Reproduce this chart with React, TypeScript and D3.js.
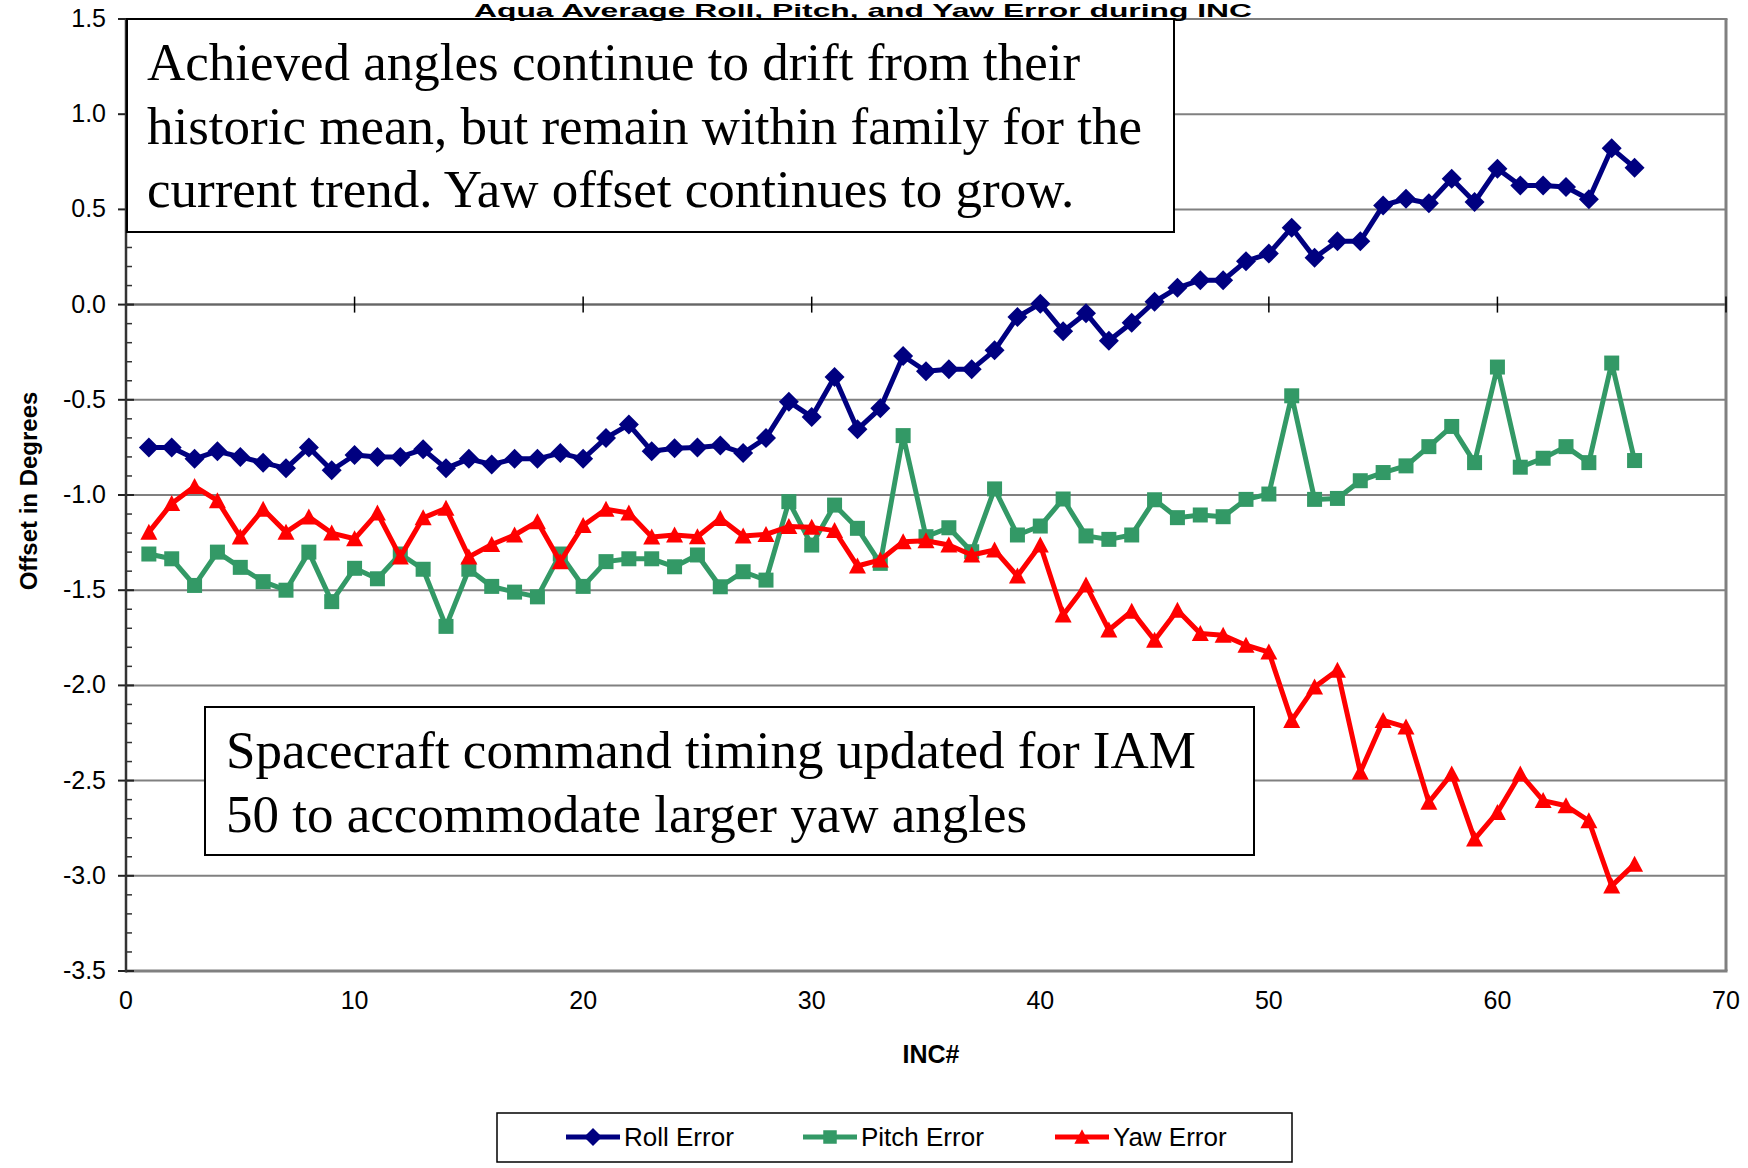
import React, { useRef, useEffect } from 'react';
import * as d3 from 'd3';

// values, one per INC# (1..66)
const rollError = [
    -0.75, -0.75, -0.81, -0.77, -0.80, -0.83, -0.86, -0.75, -0.87, -0.79,
    -0.80, -0.80, -0.76, -0.86, -0.81, -0.84, -0.81, -0.81, -0.78, -0.81,
    -0.70, -0.63, -0.77, -0.755, -0.75, -0.74, -0.78, -0.70, -0.51, -0.59,
    -0.38, -0.655, -0.545, -0.27, -0.35, -0.34, -0.34, -0.24, -0.065, 0.005,
    -0.14, -0.045, -0.19, -0.095, 0.015, 0.088, 0.128, 0.128, 0.228, 0.268,
    0.404, 0.246, 0.333, 0.333, 0.521, 0.556, 0.532, 0.661, 0.539, 0.714,
    0.626, 0.626, 0.618, 0.553, 0.821, 0.719
];
const pitchError = [
    -1.31, -1.335, -1.475, -1.30, -1.38, -1.455, -1.50, -1.30, -1.56, -1.385,
    -1.44, -1.31, -1.39, -1.69, -1.39, -1.48, -1.51, -1.535, -1.31, -1.48,
    -1.35, -1.335, -1.335, -1.377, -1.315, -1.482, -1.403, -1.447, -1.035, -1.263,
    -1.053, -1.175, -1.359, -0.688, -1.219, -1.172, -1.298, -0.968, -1.21, -1.163,
    -1.021, -1.215, -1.233, -1.21, -1.025, -1.119, -1.105, -1.114, -1.023, -0.995,
    -0.479, -1.023, -1.018, -0.925, -0.882, -0.847, -0.746, -0.64, -0.83, -0.328,
    -0.854, -0.807, -0.746, -0.83, -0.307, -0.819
];
const yawError = [
    -1.195, -1.045, -0.955, -1.03, -1.22, -1.075, -1.195, -1.115, -1.20, -1.23,
    -1.095, -1.325, -1.12, -1.07, -1.325, -1.26, -1.21, -1.14, -1.35, -1.16,
    -1.075, -1.095, -1.22, -1.21, -1.219, -1.123, -1.215, -1.207, -1.166, -1.17,
    -1.187, -1.373, -1.341, -1.245, -1.24, -1.263, -1.315, -1.289, -1.426, -1.263,
    -1.63, -1.473, -1.709, -1.61, -1.763, -1.605, -1.728, -1.737, -1.789, -1.825,
    -2.184, -2.009, -1.921, -2.456, -2.184, -2.219, -2.614, -2.465, -2.807, -2.667,
    -2.465, -2.605, -2.632, -2.711, -3.053, -2.939
];

const yTicks = [1.5, 1.0, 0.5, 0.0, -0.5, -1.0, -1.5, -2.0, -2.5, -3.0, -3.5];
const xTicks = [0, 10, 20, 30, 40, 50, 60, 70];

const seriesNames = ['Roll Error', 'Pitch Error', 'Yaw Error'];
const seriesColors = ['#000080', '#339966', '#FF0000'];
const seriesShapes = ['diamond', 'square', 'triangle'];

const title = 'Aqua Average Roll, Pitch, and Yaw Error during INC';
const note1 = [
    'Achieved angles continue to drift from their',
    'historic mean, but remain within family for the',
    'current trend. Yaw offset continues to grow.'
];
const note2 = [
    'Spacecraft command timing updated for IAM',
    '50 to accommodate larger yaw angles'
];

const W = 1748;
const H = 1168;
const plot = { left: 126, right: 1726, top: 19, bottom: 971 };

const markerPath = (shape: string, s: number) => {
    if (shape === 'diamond') return `M0,${-s} L${s},0 L0,${s} L${-s},0 Z`;
    if (shape === 'square') return `M${-s * 0.75},${-s * 0.75} h${s * 1.5} v${s * 1.5} h${-s * 1.5} Z`;
    return `M0,${-s * 0.85} L${s * 0.85},${s * 0.75} L${-s * 0.85},${s * 0.75} Z`;
};

export default function App() {
    const ref = useRef<SVGSVGElement>(null);

    useEffect(() => {
        if (!ref.current) return;
        const svg = d3.select(ref.current);
        svg.selectAll('*').remove();

        const x = d3.scaleLinear().domain([0, 70]).range([plot.left, plot.right]);
        const y = d3.scaleLinear().domain([-3.5, 1.5]).range([plot.bottom, plot.top]);
        const sans = '"Liberation Sans", Arial, sans-serif';
        const serif = '"Liberation Serif", "Times New Roman", serif';

        svg.append('rect').attr('width', W).attr('height', H).attr('fill', '#fff');

        /* gridlines */
        svg.append('g').selectAll('line')
            .data(yTicks.filter(v => v > -3.5 && v < 1.5))
            .enter().append('line')
            .attr('x1', plot.left).attr('x2', plot.right)
            .attr('y1', d => y(d)).attr('y2', d => y(d))
            .attr('stroke', '#808080').attr('stroke-width', 2);

        /* plot frame */
        svg.append('line')
            .attr('x1', plot.right).attr('x2', plot.right)
            .attr('y1', plot.top).attr('y2', plot.bottom)
            .attr('stroke', '#808080').attr('stroke-width', 3);
        svg.append('line')
            .attr('x1', plot.left).attr('x2', plot.right + 1.5)
            .attr('y1', plot.bottom).attr('y2', plot.bottom)
            .attr('stroke', '#808080').attr('stroke-width', 3);
        svg.append('line')
            .attr('x1', plot.left).attr('x2', plot.right + 1.5)
            .attr('y1', plot.top).attr('y2', plot.top)
            .attr('stroke', '#808080').attr('stroke-width', 2);

        /* x axis crosses at 0 */
        svg.append('line')
            .attr('x1', plot.left).attr('x2', plot.right)
            .attr('y1', y(0)).attr('y2', y(0))
            .attr('stroke', '#666').attr('stroke-width', 2);
        svg.append('g').selectAll('line')
            .data(xTicks.slice(1))
            .enter().append('line')
            .attr('x1', d => x(d)).attr('x2', d => x(d))
            .attr('y1', y(0) - 8).attr('y2', y(0) + 8)
            .attr('stroke', '#000').attr('stroke-width', 1.5);
        svg.append('g').selectAll('text')
            .data(xTicks)
            .enter().append('text')
            .attr('x', d => x(d)).attr('y', 1009)
            .attr('text-anchor', 'middle')
            .attr('font-family', sans).attr('font-size', 25)
            .text(d => String(d));

        /* y axis */
        const minor = d3.range(-35, 16).map(v => v / 10).filter(v => Math.round(v * 10) % 5 !== 0);
        svg.append('g').selectAll('line')
            .data(minor)
            .enter().append('line')
            .attr('x1', plot.left).attr('x2', plot.left + 6)
            .attr('y1', d => y(d)).attr('y2', d => y(d))
            .attr('stroke', '#333').attr('stroke-width', 1.5);
        svg.append('g').selectAll('line')
            .data(yTicks)
            .enter().append('line')
            .attr('x1', plot.left - 8).attr('x2', plot.left + 8)
            .attr('y1', d => y(d)).attr('y2', d => y(d))
            .attr('stroke', '#222').attr('stroke-width', 2);
        svg.append('line')
            .attr('x1', plot.left).attr('x2', plot.left)
            .attr('y1', plot.top).attr('y2', plot.bottom + 1.5)
            .attr('stroke', '#333').attr('stroke-width', 2.5);
        svg.append('g').selectAll('text')
            .data(yTicks)
            .enter().append('text')
            .attr('x', 106).attr('y', d => y(d) + 8)
            .attr('text-anchor', 'end')
            .attr('font-family', sans).attr('font-size', 25)
            .text(d => d.toFixed(1));

        /* axis titles */
        svg.append('text')
            .attr('x', 931).attr('y', 1063)
            .attr('text-anchor', 'middle')
            .attr('font-family', sans).attr('font-size', 25).attr('font-weight', 'bold')
            .text('INC#');
        svg.append('text')
            .attr('transform', 'translate(37, 491) rotate(-90)')
            .attr('text-anchor', 'middle')
            .attr('font-family', sans).attr('font-size', 24).attr('font-weight', 'bold')
            .text('Offset in Degrees');

        /* note boxes */
        const note = (bx: number, by: number, bw: number, bh: number, lines: string[], tx: number, ty: number) => {
            svg.append('rect')
                .attr('x', bx).attr('y', by).attr('width', bw).attr('height', bh)
                .attr('fill', '#fff').attr('stroke', '#000').attr('stroke-width', 2);
            svg.append('g').selectAll('text')
                .data(lines)
                .enter().append('text')
                .attr('x', tx).attr('y', (d, i) => ty + i * 63.5)
                .attr('font-family', serif).attr('font-size', 53)
                .text(d => d);
        };
        note(127, 19, 1047, 213, note1, 147, 80);
        note(205, 707, 1049, 148, note2, 226, 768);

        /* title, squeezed against the top edge */
        svg.append('text')
            .attr('x', 863).attr('y', 17)
            .attr('text-anchor', 'middle')
            .attr('font-family', sans).attr('font-size', 19).attr('font-weight', 'bold')
            .attr('textLength', 778).attr('lengthAdjust', 'spacingAndGlyphs')
            .text(title);

        /* series */
        const allSeries = [rollError, pitchError, yawError];
        allSeries.forEach((values, si) => {
            const line = d3.line<number>()
                .x((d, i) => x(i + 1))
                .y(d => y(d));
            svg.append('path')
                .datum(values)
                .attr('d', line)
                .attr('fill', 'none')
                .attr('stroke', seriesColors[si])
                .attr('stroke-width', 5)
                .attr('stroke-linejoin', 'round');
            svg.append('g').selectAll('path')
                .data(values)
                .enter().append('path')
                .attr('transform', (d, i) => `translate(${x(i + 1)},${y(d)})`)
                .attr('d', markerPath(seriesShapes[si], 10))
                .attr('fill', seriesColors[si]);
        });

        /* legend */
        svg.append('rect')
            .attr('x', 497).attr('y', 1113).attr('width', 795).attr('height', 49)
            .attr('fill', '#fff').attr('stroke', '#000').attr('stroke-width', 1.5);
        const legendX = [566, 803, 1055];
        const ly = 1137;
        seriesNames.forEach((name, si) => {
            const lx = legendX[si];
            svg.append('line')
                .attr('x1', lx).attr('x2', lx + 54)
                .attr('y1', ly).attr('y2', ly)
                .attr('stroke', seriesColors[si]).attr('stroke-width', 5);
            svg.append('path')
                .attr('transform', `translate(${lx + 27},${ly})`)
                .attr('d', markerPath(seriesShapes[si], 9))
                .attr('fill', seriesColors[si]);
            svg.append('text')
                .attr('x', lx + 58).attr('y', ly + 9)
                .attr('font-family', sans).attr('font-size', 26)
                .text(name);
        });
    }, []);

    return (
        <svg
            ref={ref}
            width={W}
            height={H}
            style={{ position: 'absolute', left: 0, top: 0, display: 'block' }}
        />
    );
}
